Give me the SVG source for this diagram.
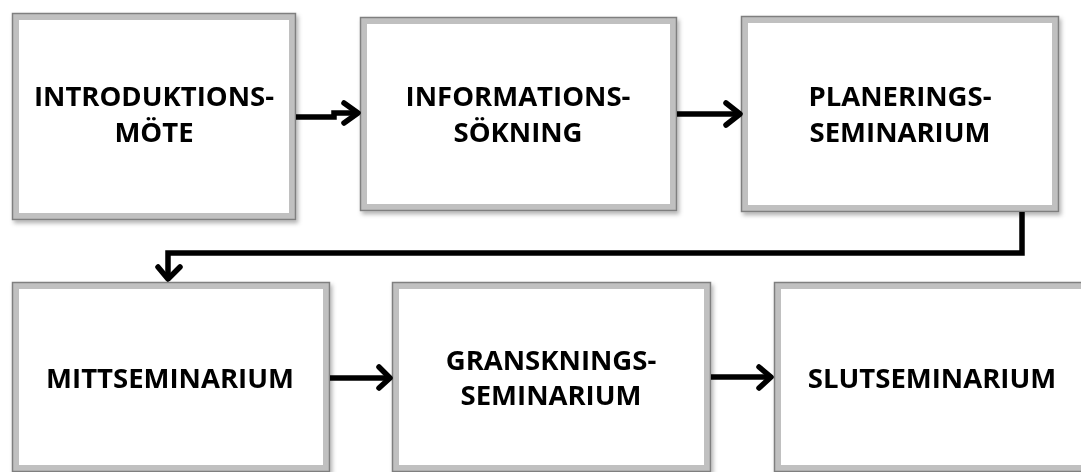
<svg xmlns="http://www.w3.org/2000/svg" width="1081" height="472" viewBox="0 0 1081 472">
<style>
.band{fill:#ffffff;stroke:#c0c0c0;stroke-width:7}
.edge{fill:none;stroke:#7f7f7f;stroke-width:1.5}
.lbl{font-family:"Open Sans","Liberation Sans",sans-serif;font-weight:bold;font-size:27.5px;fill:#000;text-anchor:middle}
.conn{fill:none;stroke:#000;stroke-width:5.5;stroke-linejoin:miter}
.head{fill:none;stroke:#000;stroke-width:5.5;stroke-linecap:round;stroke-linejoin:round}
</style>
<defs>
<filter id="sh" x="-5%" y="-5%" width="112%" height="115%">
<feDropShadow dx="2" dy="3" stdDeviation="2" flood-color="#000" flood-opacity="0.3"/>
</filter>
</defs>
<rect width="1081" height="472" fill="#ffffff"/>
<g id="n1" filter="url(#sh)">
<rect class="band" x="15.5" y="16.5" width="277" height="200"/>
<rect class="edge" x="12.5" y="13.5" width="283" height="206"/>
<text class="lbl" x="154" y="106">INTRODUKTIONS-</text>
<text class="lbl" x="154" y="142">MÖTE</text>
</g>
<g id="n2" filter="url(#sh)">
<rect class="band" x="363.5" y="20.5" width="310" height="187"/>
<rect class="edge" x="360.5" y="17.5" width="316" height="193"/>
<text class="lbl" x="518" y="106">INFORMATIONS-</text>
<text class="lbl" x="518" y="142">SÖKNING</text>
</g>
<g id="n3" filter="url(#sh)">
<rect class="band" x="744.5" y="19.5" width="311" height="189"/>
<rect class="edge" x="741.5" y="16.5" width="317" height="195"/>
<text class="lbl" x="900" y="106">PLANERINGS-</text>
<text class="lbl" x="900" y="142">SEMINARIUM</text>
</g>
<g id="n4" filter="url(#sh)">
<rect class="band" x="15.5" y="285.5" width="311" height="183"/>
<rect class="edge" x="12.5" y="282.5" width="317" height="189"/>
<text class="lbl" x="170" y="388">MITTSEMINARIUM</text>
</g>
<g id="n5" filter="url(#sh)">
<rect class="band" x="395.5" y="285.5" width="312" height="183"/>
<rect class="edge" x="392.5" y="282.5" width="318" height="189"/>
<text class="lbl" x="551" y="370">GRANSKNINGS-</text>
<text class="lbl" x="551" y="405">SEMINARIUM</text>
</g>
<g id="n6" filter="url(#sh)">
<rect class="band" x="777.5" y="285.5" width="320" height="183"/>
<rect class="edge" x="774.5" y="282.5" width="326" height="189"/>
<text class="lbl" x="932" y="388">SLUTSEMINARIUM</text>
</g>
<g id="connectors">
<path class="conn" d="M296,117 H334 V113 H357"/>
<path class="head" d="M344,103 L358,113 L344,123"/>
<path class="conn" d="M677,114 H739"/>
<path class="head" d="M726,103 L740,114 L726,125"/>
<path class="conn" d="M1022,212 V253 H168 V277"/>
<path class="head" d="M158,267 L168,279 L180,267"/>
<path class="conn" d="M330,378 H389"/>
<path class="head" d="M379,367 L390,378 L379,388"/>
<path class="conn" d="M711,377 H771"/>
<path class="head" d="M759,367 L771,377 L759,388"/>
</g>
</svg>
